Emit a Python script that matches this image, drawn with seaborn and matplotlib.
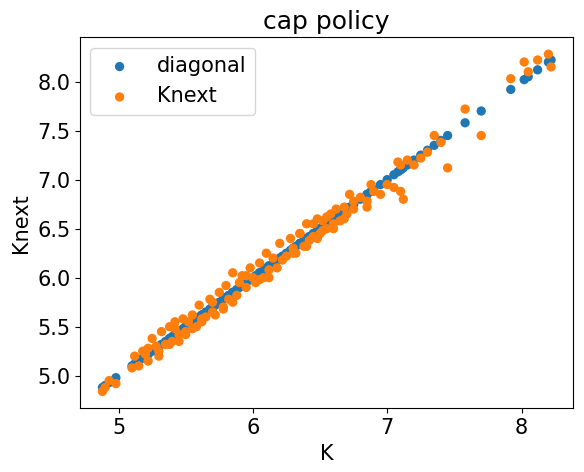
import matplotlib
matplotlib.use("Agg")
import matplotlib.pyplot as plt
import seaborn as sns

K = [4.88,4.9,4.93,4.98,5.1,5.12,5.15,5.18,5.2,5.22,5.25,5.28,5.3,5.32,5.35,5.38,5.4,5.42,5.45,5.48,
     5.5,5.52,5.55,5.58,5.6,5.62,5.65,5.68,5.7,5.72,5.75,5.78,5.8,5.82,5.85,5.88,5.9,5.92,5.95,5.98,
     6.0,6.02,6.05,6.08,6.1,6.12,6.15,6.18,6.2,6.22,6.25,6.28,6.3,6.32,6.35,6.38,6.4,6.42,6.45,6.48,
     6.5,6.52,6.55,6.58,6.6,6.62,6.65,6.68,6.7,6.72,6.75,6.8,6.85,6.88,6.9,6.95,7.05,7.08,7.1,7.12,
     7.15,7.2,7.3,7.35,7.4,7.45,7.58,7.7,7.92,8.02,8.05,8.12,8.2,8.22,
     5.22,5.3,5.38,5.42,5.45,5.5,5.55,5.62,5.7,5.78,5.85,5.95,6.05,6.12,6.3,6.35,6.4,6.45,6.48,6.52,
     6.55,6.6,6.68,6.75,6.85,7.0,7.1,7.25]
Knext = [4.84,4.88,4.95,4.92,5.08,5.2,5.1,5.25,5.22,5.15,5.38,5.3,5.25,5.45,5.32,5.5,5.35,5.48,5.42,5.58,
         5.45,5.55,5.62,5.5,5.72,5.58,5.6,5.78,5.65,5.62,5.85,5.7,5.92,5.78,6.05,5.82,5.95,6.02,5.9,6.1,
         6.0,5.95,6.15,6.0,6.25,6.08,6.2,6.1,6.35,6.18,6.22,6.4,6.3,6.25,6.45,6.32,6.55,6.38,6.42,6.6,
         6.45,6.58,6.5,6.65,6.55,6.7,6.58,6.72,6.65,6.85,6.7,6.82,6.78,6.95,6.88,6.85,6.92,7.18,6.88,6.8,
         7.2,7.15,7.28,7.45,7.38,7.12,7.72,7.45,8.03,8.2,8.1,8.22,8.28,8.15,
         5.28,5.2,5.32,5.55,5.35,5.42,5.48,5.55,5.75,5.68,5.75,6.02,5.98,6.0,6.25,6.45,6.32,6.55,6.4,6.48,
         6.62,6.5,6.6,6.78,6.72,6.95,7.15,7.22]

fig, ax = plt.subplots(figsize=(5.84, 4.72), dpi=100)
sns.scatterplot(x=K, y=K, ax=ax, color="#1f77b4", s=45, edgecolor="none", label="diagonal")
sns.scatterplot(x=K, y=Knext, ax=ax, color="#ff7f0e", s=45, edgecolor="none", label="Knext")
ax.set_title("cap policy", fontsize=18)
ax.set_xlabel("K", fontsize=15)
ax.set_ylabel("Knext", fontsize=15)
ax.tick_params(labelsize=15)
ax.set_yticks([5.0,5.5,6.0,6.5,7.0,7.5,8.0])
ax.legend(fontsize=15, loc="upper left")
fig.subplots_adjust(left=0.137, right=0.982, top=0.921, bottom=0.135)
fig.savefig("out.png")
